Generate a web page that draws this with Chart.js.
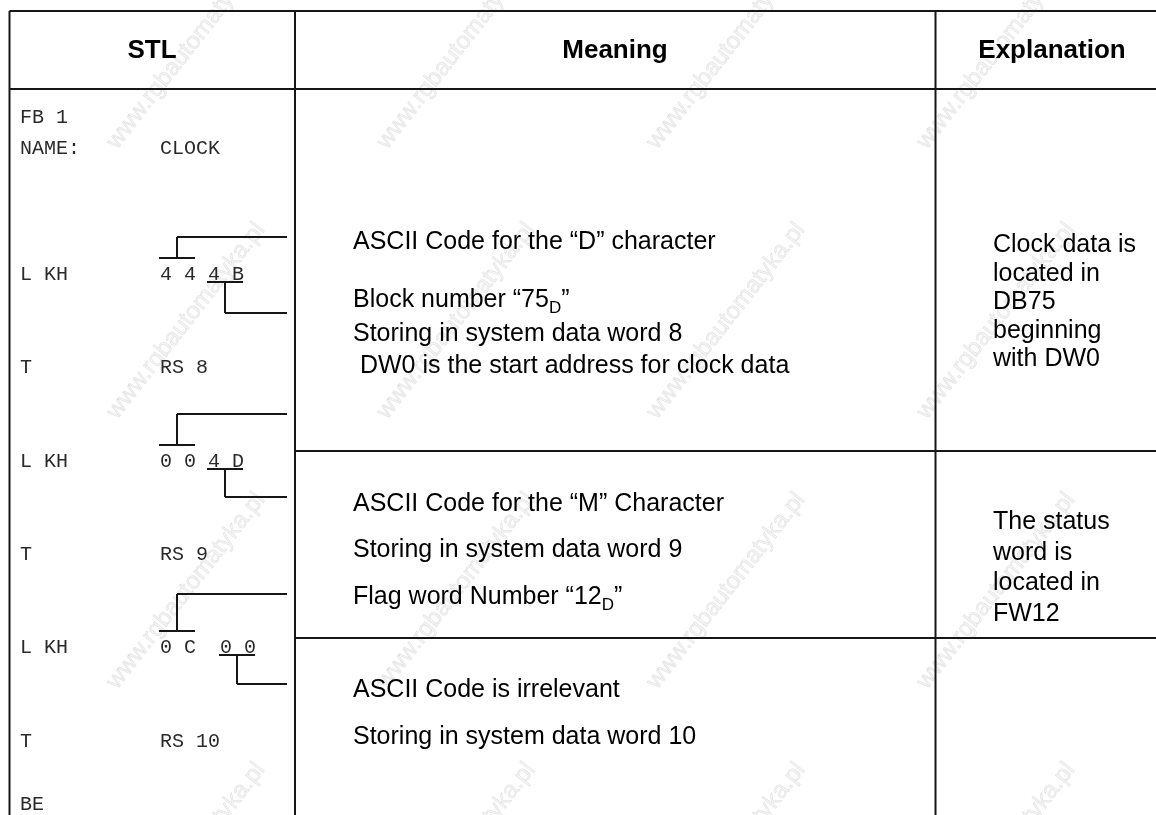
<!DOCTYPE html>
<html lang="en">
<head>
<meta charset="UTF-8" />
<title>FB 1 | CLOCK</title>
<script src="https://cdn.jsdelivr.net/npm/chart.js@4.4.0/dist/chart.umd.min.js"></script>
<style>
  html, body { margin: 0; padding: 0; background: #fff; }
  #table-chart { display: block; }
</style>
</head>
<body>
<canvas id="table-chart" width="1156" height="815"></canvas>
<script>
  // column headings
  const headers = ['STL', 'Meaning', 'Explanation'];

  // STL listing, one entry per code line
  const stlOps = ['FB 1', 'NAME:', 'L KH', 'T', 'L KH', 'T', 'L KH', 'T', 'BE'];
  const stlArgs = ['', 'CLOCK', '4 4 4 B', 'RS 8', '0 0 4 D', 'RS 9', '0 C  0 0', 'RS 10', ''];

  // meaning column, "_" marks a subscript character
  const meaningLines = [
    'ASCII Code for the “D” character',
    'Block number “75_D”',
    'Storing in system data word 8',
    ' DW0 is the start address for clock data',
    'ASCII Code for the “M” Character',
    'Storing in system data word 9',
    'Flag word Number “12_D”',
    'ASCII Code is irrelevant',
    'Storing in system data word 10'
  ];

  // explanation column, one block per table row
  const explanationBlocks = [
    ['Clock data is', 'located in', 'DB75', 'beginning', 'with DW0'],
    ['The status', 'word is', 'located in', 'FW12'],
    []
  ];

  const watermark = 'www.rgbautomatyka.pl';

  // ---- layout (page units, mapped through the chart scales) ----
  const W = 1156, H = 815;
  const colEdges = [9.5, 295, 935.5];
  const tableTop = 11, headBottom = 89;
  const rowBreaks = [451, 638];
  const headerX = [152, 615, 1052], headerBase = 58;
  const stlX = [20, 160];
  const stlBase = [123, 154, 280, 373, 467, 560, 653, 747, 810];
  const meaningX = 353;
  const meaningBase = [249, 307, 341, 373, 511, 557, 604, 697, 744];
  const explX = 993;
  const explFirst = [252, 529, 0];
  const explPitch = [28.5, 30.7, 0];
  // brackets on the hex constants: line index, char range over / under, leader offsets
  const brackets = [
    { line: 2, over: [0, 3], under: [4, 7], up: 43, down: 33 },
    { line: 4, over: [0, 3], under: [4, 7], up: 53, down: 30 },
    { line: 6, over: [0, 3], under: [5, 8], up: 59, down: 31 }
  ];
  const leaderEnd = 287;

  const SANS = '"Liberation Sans", Arial, sans-serif';
  const MONO = '"Liberation Mono", "Courier New", monospace';

  const tablePlugin = {
    id: 'tablePlugin',
    beforeDraw(chart) {
      const ctx = chart.ctx;
      const sx = v => chart.scales.x.getPixelForValue(v);
      const sy = v => chart.scales.y.getPixelForValue(v);

      // faint watermark grid
      ctx.save();
      ctx.font = '24px ' + SANS;
      ctx.fillStyle = 'rgba(0,0,0,0.045)';
      ctx.strokeStyle = 'rgba(0,0,0,0.10)';
      ctx.lineWidth = 0.7;
      for (let j = 0; j < 4; j++) {
        for (let i = -1; i < 5; i++) {
          ctx.save();
          ctx.translate(sx(117 + 270 * i), sy(150 + 270 * j));
          ctx.rotate(-52 * Math.PI / 180);
          ctx.fillText(watermark, 0, 0);
          ctx.strokeText(watermark, 0, 0);
          ctx.restore();
        }
      }
      ctx.restore();
    },
    afterDraw(chart) {
      const ctx = chart.ctx;
      const sx = v => chart.scales.x.getPixelForValue(v);
      const sy = v => chart.scales.y.getPixelForValue(v);
      const line = (x1, y1, x2, y2) => {
        ctx.beginPath();
        ctx.moveTo(sx(x1), sy(y1));
        ctx.lineTo(sx(x2), sy(y2));
        ctx.stroke();
      };

      ctx.save();
      ctx.strokeStyle = '#161616';
      ctx.lineWidth = 2;
      line(colEdges[0], tableTop, W, tableTop);
      line(colEdges[0], headBottom, W, headBottom);
      colEdges.forEach(x => line(x, tableTop, x, H));
      rowBreaks.forEach(y => line(colEdges[1], y, W, y));

      // headings
      ctx.fillStyle = '#000';
      ctx.textAlign = 'center';
      ctx.textBaseline = 'alphabetic';
      ctx.font = 'bold 26px ' + SANS;
      headers.forEach((h, i) => ctx.fillText(h, sx(headerX[i]), sy(headerBase)));

      // STL code
      ctx.textAlign = 'left';
      ctx.font = '20px ' + MONO;
      ctx.fillStyle = '#2a2a2a';
      stlOps.forEach((op, i) => {
        ctx.fillText(op, sx(stlX[0]), sy(stlBase[i]));
        if (stlArgs[i]) ctx.fillText(stlArgs[i], sx(stlX[1]), sy(stlBase[i]));
      });

      // brackets and leaders
      const cw = ctx.measureText('0').width;
      ctx.lineWidth = 2;
      brackets.forEach(b => {
        const base = stlBase[b.line];
        const ox1 = stlX[1] + b.over[0] * cw - 1, ox2 = stlX[1] + b.over[1] * cw - 1;
        const ux1 = stlX[1] + b.under[0] * cw - 1, ux2 = stlX[1] + b.under[1] * cw - 1;
        const oy = base - 22, uy = base + 2;
        const om = (ox1 + ox2) / 2, um = (ux1 + ux2) / 2;
        line(ox1, oy, ox2, oy);
        line(om, oy, om, base - b.up);
        line(om, base - b.up, leaderEnd, base - b.up);
        line(ux1, uy, ux2, uy);
        line(um, uy, um, base + b.down);
        line(um, base + b.down, leaderEnd, base + b.down);
      });

      // meaning column
      ctx.fillStyle = '#000';
      meaningLines.forEach((txt, i) => {
        const parts = txt.split(/_(.)/);
        let x = sx(meaningX);
        parts.forEach((p, k) => {
          const sub = k % 2 === 1;
          ctx.font = (sub ? '17px ' : '25px ') + SANS;
          ctx.fillText(p, x, sy(meaningBase[i] + (sub ? 6 : 0)));
          x += ctx.measureText(p).width;
        });
      });

      // explanation column
      ctx.font = '25px ' + SANS;
      explanationBlocks.forEach((block, b) => {
        block.forEach((txt, k) => {
          ctx.fillText(txt, sx(explX), sy(explFirst[b] + k * explPitch[b]));
        });
      });
      ctx.restore();
    }
  };

  new Chart(document.getElementById('table-chart'), {
    type: 'scatter',
    data: { datasets: [] },
    options: {
      responsive: false,
      animation: false,
      layout: { padding: 0 },
      plugins: { legend: { display: false }, tooltip: { enabled: false } },
      scales: {
        x: { type: 'linear', min: 0, max: W, display: false },
        y: { type: 'linear', min: 0, max: H, reverse: true, display: false }
      }
    },
    plugins: [tablePlugin]
  });
</script>
</body>
</html>
